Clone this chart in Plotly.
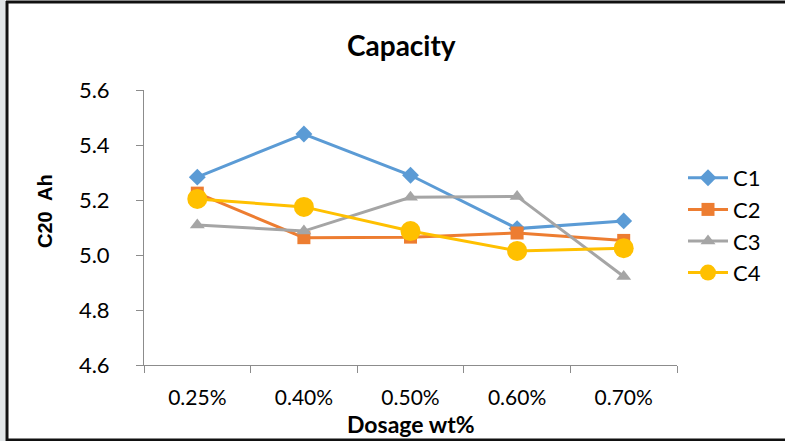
import plotly.graph_objects as go

# Dosage levels (categories) and measured C20 capacity (Ah) for each cell
dosage = ["0.25%", "0.40%", "0.50%", "0.60%", "0.70%"]
c1 = [5.283, 5.440, 5.290, 5.096, 5.124]
c2 = [5.225, 5.063, 5.065, 5.080, 5.053]
c3 = [5.109, 5.087, 5.210, 5.213, 4.922]
c4 = [5.204, 5.175, 5.087, 5.015, 5.025]

series_names = ["C1", "C2", "C3", "C4"]
series_values = [c1, c2, c3, c4]
colors = ["#5B9BD5", "#ED7D31", "#A5A5A5", "#FFC000"]
symbols = ["diamond", "square", "triangle-up", "circle"]
sizes = [13, 13, 13, 20]

W, H = 785, 441
L, R, T, B = 144, 677, 90, 365
FONT = "Lato"


def px(x):
    return (x - L) / (R - L)


def py(y):
    return (B - y) / (B - T)


fig = go.Figure()
for i, (name, vals) in enumerate(zip(series_names, series_values)):
    fig.add_trace(go.Scatter(
        x=dosage, y=vals, name=name, mode="lines+markers",
        line=dict(color=colors[i], width=3),
        marker=dict(symbol=symbols[i], size=sizes[i], color=colors[i]),
        legendgroup=name,
    ))

fig.update_layout(
    width=W, height=H,
    margin=dict(l=L, r=W - R, t=T, b=H - B, pad=0),
    paper_bgcolor="white", plot_bgcolor="white",
    font=dict(family=FONT, size=22, color="black"),
    showlegend=True,
    legend=dict(
        x=px(683), y=py(157), xanchor="left", yanchor="top",
        font=dict(size=22, color="black"),
        tracegroupgap=0, itemwidth=40,
        bgcolor="rgba(0,0,0,0)",
    ),
    xaxis=dict(
        type="category", range=[-0.5, 4.5],
        showline=True, linecolor="#8C8C8C", linewidth=1,
        ticks="outside", ticklen=7, tickcolor="#8C8C8C",
        tickson="boundaries", showgrid=False, zeroline=False,
        tickfont=dict(size=21), ticklabelstandoff=14,
    ),
    yaxis=dict(
        range=[4.6, 5.6], dtick=0.2, tick0=4.6, tickformat=".1f",
        showline=True, linecolor="#8C8C8C", linewidth=1,
        ticks="outside", ticklen=7, tickcolor="#8C8C8C",
        showgrid=False, zeroline=False,
        tickfont=dict(size=22), ticklabelstandoff=22,
    ),
    annotations=[
        dict(text="<b>Capacity</b>", x=px(401), y=py(45), xref="paper", yref="paper",
             showarrow=False, font=dict(size=28), xanchor="center", yanchor="middle"),
        dict(text="<b>Dosage wt%</b>", x=px(411), y=py(424), xref="paper", yref="paper",
             showarrow=False, font=dict(size=23), xanchor="center", yanchor="middle"),
        dict(text="<b>C20  Ah</b>", x=px(45), y=py(211), xref="paper", yref="paper",
             showarrow=False, font=dict(size=20, family="Liberation Sans"), textangle=-90,
             xanchor="center", yanchor="middle"),
    ],
    shapes=[
        # grey strip at the far left edge
        dict(type="rect", xref="paper", yref="paper", x0=px(0), x1=px(5.5), y0=py(0), y1=py(H),
             fillcolor="#E1E5E7", line=dict(width=0), layer="below"),
        # frame lines around the chart
        dict(type="line", xref="paper", yref="paper", x0=px(7), x1=px(7), y0=py(1), y1=py(H),
             line=dict(color="#111111", width=3)),
        dict(type="line", xref="paper", yref="paper", x0=px(6), x1=px(W), y0=py(2), y1=py(2),
             line=dict(color="#111111", width=3)),
        dict(type="line", xref="paper", yref="paper", x0=px(6), x1=px(W), y0=py(440), y1=py(440),
             line=dict(color="#111111", width=3)),
    ],
)

fig.write_html("out.html")
